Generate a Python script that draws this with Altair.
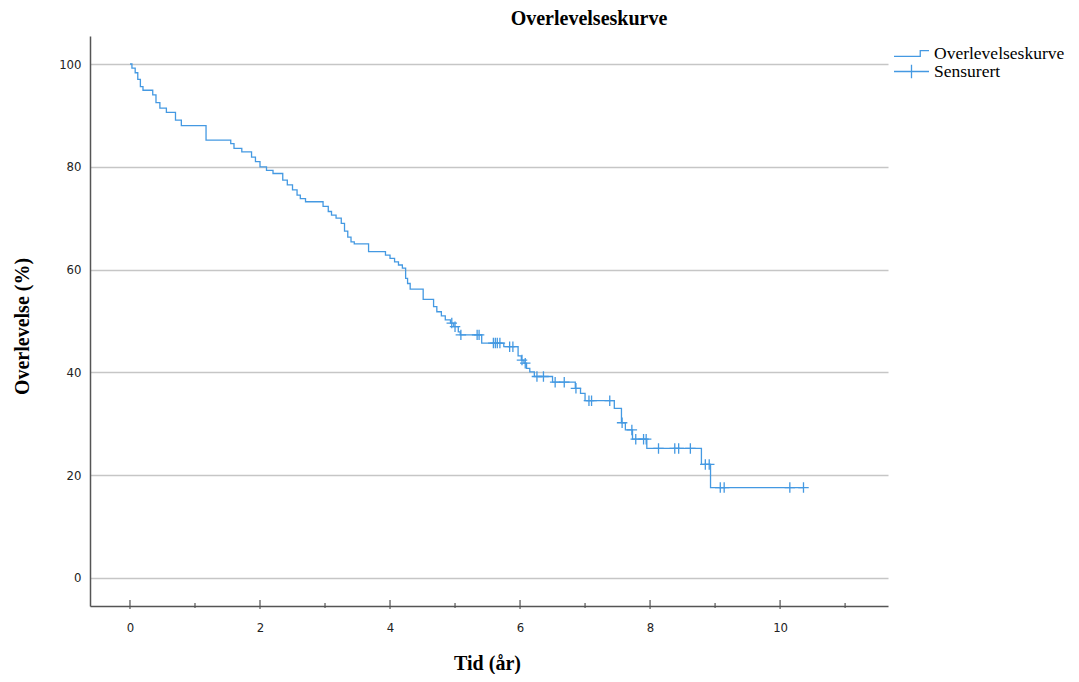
import altair as alt
import pandas as pd

# ---- data ----
step_time = [0.00, 0.03, 0.08, 0.12, 0.16, 0.20, 0.35, 0.40, 0.46, 0.56, 0.70, 0.79,
             1.17, 1.55, 1.60, 1.72, 1.87, 1.93, 2.00, 2.10, 2.20, 2.35, 2.42, 2.50,
             2.57, 2.62, 2.70, 2.97, 3.05, 3.10, 3.17, 3.25, 3.30, 3.35, 3.40, 3.45,
             3.67, 3.93, 4.00, 4.07, 4.13, 4.19, 4.24, 4.27, 4.31, 4.51, 4.67, 4.72,
             4.79, 4.85, 4.93, 4.98, 5.05, 5.08, 5.41, 5.75, 5.97, 6.02, 6.06, 6.10,
             6.15, 6.22, 6.50, 6.85, 6.93, 7.00, 7.45, 7.56, 7.62, 7.73, 7.95, 8.79,
             8.93, 10.36]
step_surv = [100.0, 99.2, 98.3, 97.0, 95.6, 94.9, 94.0, 92.5, 91.4, 90.6, 89.1, 88.0,
             85.2, 84.5, 83.6, 82.9, 81.9, 81.0, 80.0, 79.3, 78.7, 77.4, 76.5, 75.5,
             74.5, 73.8, 73.2, 72.3, 71.3, 70.6, 70.0, 69.0, 67.5, 66.3, 65.4, 65.0,
             63.5, 62.8, 62.2, 61.5, 60.9, 60.3, 58.3, 57.3, 56.2, 54.2, 52.8, 51.8,
             51.0, 50.2, 49.6, 48.9, 47.9, 47.3, 45.7, 45.0, 43.2, 42.4, 41.8, 40.8,
             40.1, 39.2, 38.1, 36.9, 35.9, 34.5, 33.0, 30.2, 28.8, 27.0, 25.2, 22.1,
             17.6, 17.6]

cens_time = [4.95, 5.00, 5.09, 5.34, 5.37, 5.59, 5.62, 5.65, 5.69, 5.84, 5.89, 6.03,
             6.08, 6.26, 6.36, 6.54, 6.68, 6.86, 7.06, 7.10, 7.38, 7.57, 7.72, 7.78,
             7.90, 7.94, 8.13, 8.38, 8.44, 8.62, 8.85, 8.91, 9.08, 9.14, 10.15, 10.36]
cens_surv = [49.6, 48.9, 47.3, 47.3, 47.3, 45.7, 45.7, 45.7, 45.7, 45.0, 45.0, 42.4,
             41.8, 39.2, 39.2, 38.1, 38.1, 36.9, 34.5, 34.5, 34.5, 30.2, 28.8, 27.0,
             27.0, 27.0, 25.2, 25.2, 25.2, 25.2, 22.1, 22.1, 17.6, 17.6, 17.6, 17.6]

x_label_values = [0, 2, 4, 6, 8, 10]
y_label_values = [0, 20, 40, 60, 80, 100]
major_ticks = [0, 2, 4, 6, 8, 10]
minor_ticks = [1, 3, 5, 7, 9, 11]

# ---- styling ----
BLUE = "#4499e2"
W, H = 798, 570
SERIF = "Liberation Serif"
SANS = "DejaVu Sans Condensed"
STEP_PATH = "M-1,0.16L0.5,0.16L0.5,-0.16L1,-0.16"
PLUS_LEGEND = "M-1,0L1,0M0,-0.38L0,0.38"
PLUS_MARK = "M-1,0L1,0M0,-1L0,1"

step_df = pd.DataFrame({"t": step_time, "s": step_surv, "serie": "Overlevelseskurve"})
cens_df = pd.DataFrame({"t": cens_time, "s": cens_surv, "serie": "Sensurert"})
major_df = pd.DataFrame({"t": major_ticks})
minor_df = pd.DataFrame({"t": minor_ticks})

xscale = alt.Scale(domain=[-0.615, 11.66], nice=False, zero=False)
yscale = alt.Scale(domain=[-5.45, 105.45], nice=False, zero=False)

xaxis = alt.Axis(values=x_label_values, format="d", ticks=False, tickSize=0, grid=False,
                 domainColor="#555555", domainWidth=1.5,
                 labelFont=SANS, labelFontSize=13, labelColor="#222222", labelPadding=15,
                 title="Tid (år)", titleFont=SERIF, titleFontSize=20, titleFontWeight="bold",
                 titleColor="black", titleX=397, titleY=57, titleBaseline="middle",
                 titleAlign="center")
yaxis = alt.Axis(values=y_label_values, format="d", ticks=False, tickSize=0, grid=True,
                 gridColor="#c6c6c6", gridWidth=1.5,
                 domainColor="#555555", domainWidth=1.5,
                 labelFont=SANS, labelFontSize=13, labelColor="#222222", labelPadding=9,
                 title="Overlevelse (%)", titleFont=SERIF, titleFontSize=20,
                 titleFontWeight="bold", titleColor="black", titleX=-68, titleY=290,
                 titleAngle=270, titleBaseline="middle", titleAlign="center")

legend_common = dict(title=None, orient="none", legendX=803, symbolSize=1225,
                     symbolStrokeWidth=1.3, symbolStrokeColor=BLUE,
                     labelFont=SERIF, labelFontSize=17.5, labelColor="black",
                     labelOffset=4, padding=0)

line = alt.Chart(step_df).mark_line(interpolate="step-after", strokeWidth=1.3).encode(
    x=alt.X("t:Q", scale=xscale, axis=xaxis),
    y=alt.Y("s:Q", scale=yscale, axis=yaxis),
    stroke=alt.Stroke("serie:N",
                      scale=alt.Scale(domain=["Overlevelseskurve"], range=[BLUE]),
                      legend=alt.Legend(legendY=-1, symbolType=STEP_PATH, **legend_common)),
)

cens = alt.Chart(cens_df).mark_point(shape=PLUS_MARK, size=110, filled=False,
                                     strokeWidth=1.3, color=BLUE).encode(
    x=alt.X("t:Q", scale=xscale),
    y=alt.Y("s:Q", scale=yscale),
    opacity=alt.Opacity("serie:O",
                        scale=alt.Scale(domain=["Sensurert"], range=[1]),
                        legend=alt.Legend(legendY=17, symbolType=PLUS_LEGEND,
                                          symbolFillColor="transparent", symbolOpacity=1,
                                          **legend_common)),
)

major = alt.Chart(major_df).mark_rule(color="#555555", strokeWidth=1.2).encode(
    x=alt.X("t:Q", scale=xscale), y=alt.value(H - 6), y2=alt.value(H + 3))
minor = alt.Chart(minor_df).mark_rule(color="#555555", strokeWidth=1.2).encode(
    x=alt.X("t:Q", scale=xscale), y=alt.value(H - 3), y2=alt.value(H + 2))

chart = alt.layer(major, minor, line, cens).resolve_legend(
    stroke="independent", opacity="independent"
).properties(
    width=W, height=H,
    background="white",
    title=alt.TitleParams("Overlevelseskurve", font=SERIF, fontSize=20, fontWeight="bold",
                          anchor="middle", dx=100, offset=6, color="black"),
    autosize=alt.AutoSizeParams(type="none"),
    padding={"left": 82, "top": 28, "right": 183, "bottom": 68},
).configure_view(stroke="transparent", strokeWidth=0)

chart.save("out.html", embed_options={"renderer": "svg", "actions": False})
